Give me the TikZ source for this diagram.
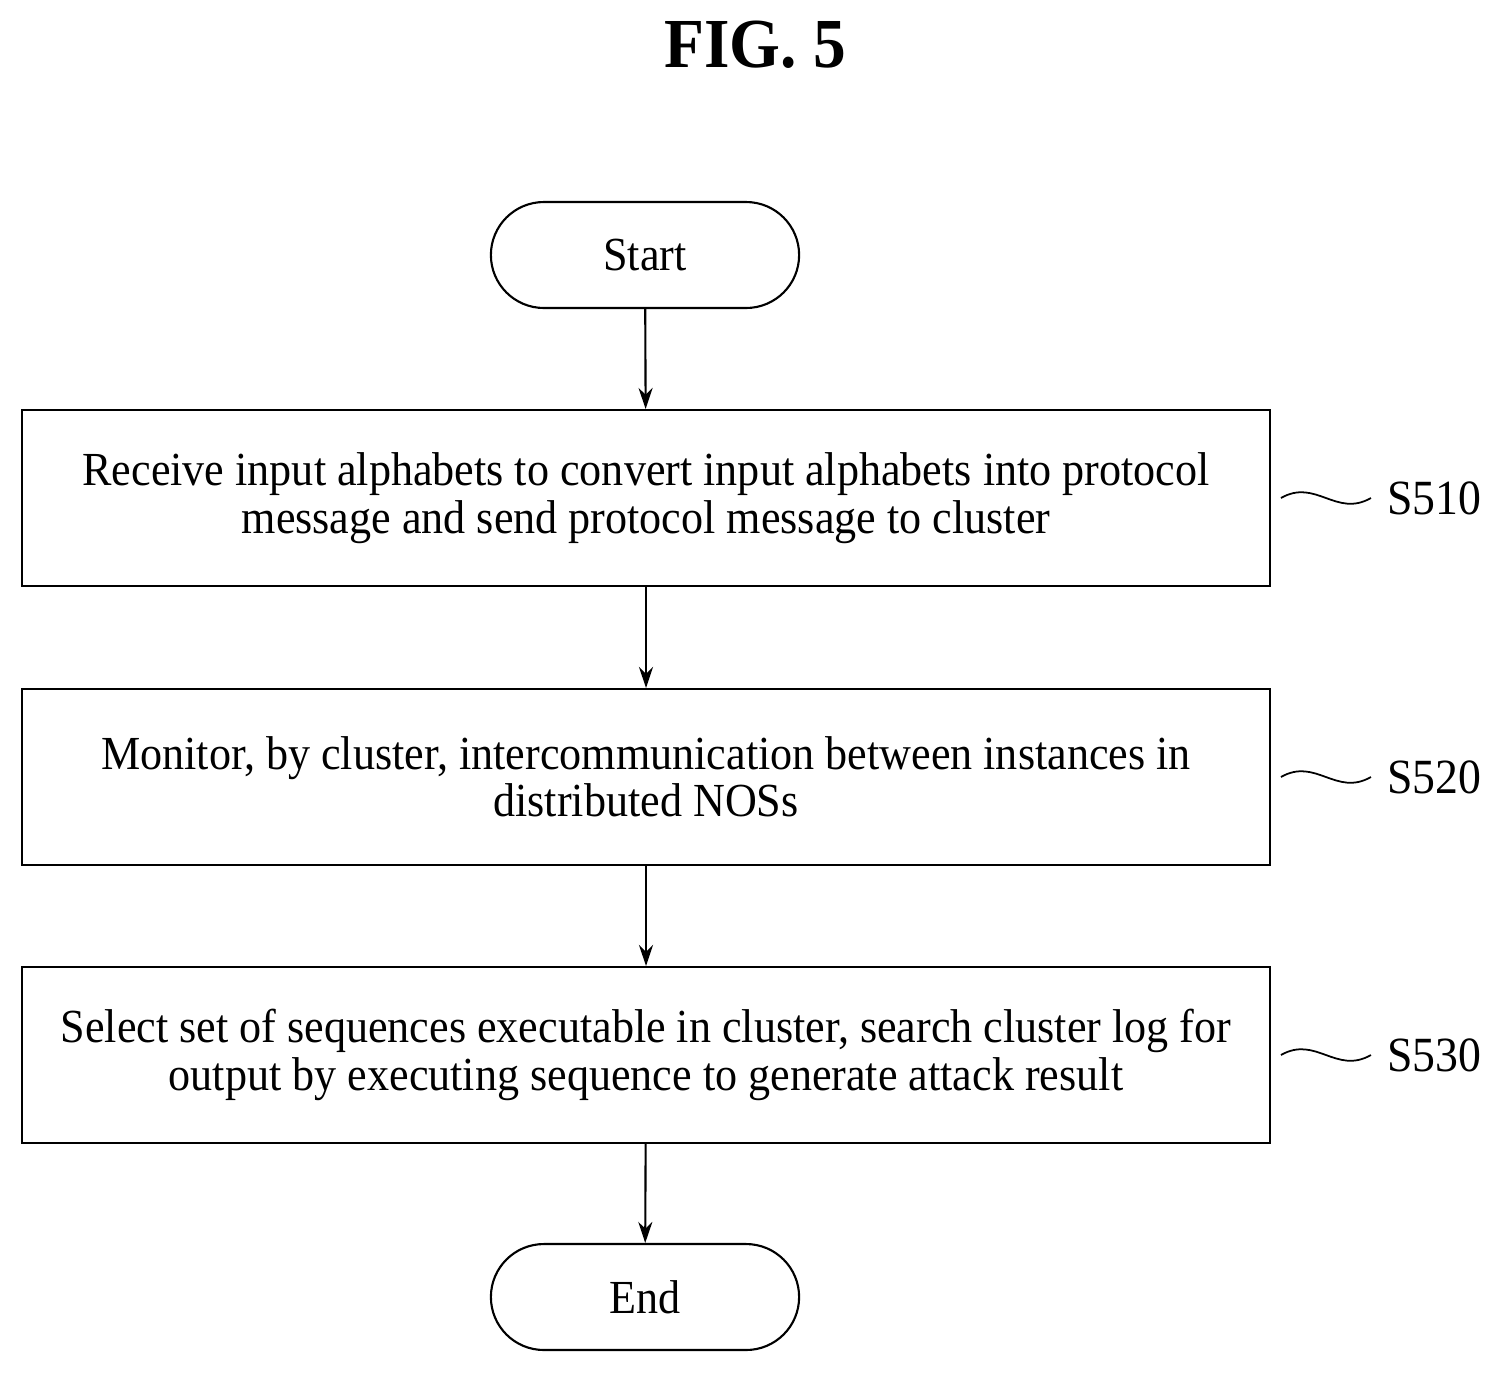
\documentclass[tikz,border=0pt]{standalone}
\usepackage{fontspec}
\setmainfont[FakeStretch=0.93]{Liberation Serif}
\usetikzlibrary{positioning,arrows.meta,shapes.misc}

\begin{document}
\begin{tikzpicture}[x=0.02cm,y=-0.02cm,
        stepbox/.style={draw,line width=1.2pt,minimum width=24.96cm,minimum height=3.52cm,align=center,font=\fontsize{27}{27}\selectfont},
        term/.style={draw,line width=1.2pt,rounded rectangle,minimum width=6.4cm,minimum height=2.12cm,font=\fontsize{27}{27}\selectfont},
        flow/.style={-{Stealth[length=12pt,width=8pt]},line width=1.2pt},
        tag/.style={font=\fontsize{28}{28}\selectfont,anchor=west}]
        
        \useasboundingbox (0,0) rectangle (1496,1374);
        \node[font=\bfseries\fontsize{40}{44}\selectfont] (title) at (755,45) {FIG. 5};
        
        \node[term] (start) at (645,255) {Start};
        \node[stepbox] (s510) at (646,498) {Receive input alphabets to convert input alphabets into protocol\\message and send protocol message to cluster};
        \node[stepbox] (s520) at (646,777) {Monitor, by cluster, intercommunication between instances in\\distributed NOSs};
        \node[stepbox] (s530) at (646,1055) {Select set of sequences executable in cluster, search cluster log for\\output by executing sequence to generate attack result};
        \node[term] (end) at (645,1297) {End};
        
        \draw[flow] (start) -- (s510);
        \draw[flow] (s510) -- (s520);
        \draw[flow] (s520) -- (s530);
        \draw[flow] (s530) -- (end);
        
        % step labels
        \foreach \s/\t in {s510/S510,s520/S520,s530/S530}{
            \node[tag] (l\s) at ([xshift=2.2cm]\s.east) {\t};
            \draw[line width=1pt] ([xshift=0.2cm]\s.east) .. controls ([xshift=0.9cm,yshift=0.4cm]\s.east) and ([xshift=1.3cm,yshift=-0.4cm]\s.east) .. ([xshift=2.0cm]\s.east);
        }
        
\end{tikzpicture}
\end{document}
